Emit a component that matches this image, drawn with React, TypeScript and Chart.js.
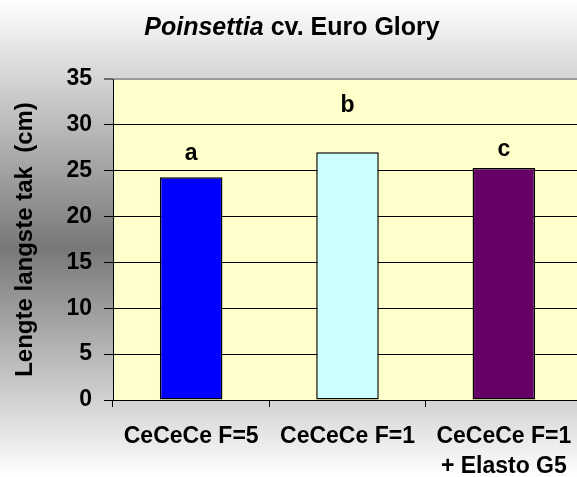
import React, { useEffect, useRef } from 'react';
import { Chart, registerables } from 'chart.js';

Chart.register(...registerables);

const categories: string[][] = [['CeCeCe F=5'], ['CeCeCe F=1'], ['CeCeCe F=1', '+ Elasto G5']];
const lengths = [24.3, 27.0, 25.3];
const barColors = ['#0000FF', '#CCFFFF', '#660066'];
const groupLetters = ['a', 'b', 'c'];
const letterLevels = [26.2, 31.4, 26.6];
const yMin = 0;
const yMax = 35;
const yStep = 5;
const titleItalic = 'Poinsettia';
const titleRest = ' cv. Euro Glory';
const yAxisTitle = 'Lengte langste tak  (cm)';

const FONT = '"Liberation Sans", Arial, Helvetica, sans-serif';

const plotBg = {
  id: 'plotBg',
  beforeDraw(chart: any) {
    const { ctx, chartArea: a } = chart;
    ctx.save();
    ctx.fillStyle = '#FFFFCC';
    ctx.fillRect(a.left, a.top, a.right - a.left, a.bottom - a.top);
    ctx.restore();
  },
};

const mixedTitle = {
  id: 'mixedTitle',
  afterDraw(chart: any) {
    const ctx = chart.ctx;
    ctx.save();
    const fi = `italic bold 25px ${FONT}`;
    const fr = `bold 25px ${FONT}`;
    ctx.font = fi;
    const w1 = ctx.measureText(titleItalic).width;
    ctx.font = fr;
    const w2 = ctx.measureText(titleRest).width;
    const x = chart.width / 2 - 3 - (w1 + w2) / 2;
    const y = chart.chartArea.top - 44;
    ctx.fillStyle = '#000';
    ctx.textBaseline = 'alphabetic';
    ctx.textAlign = 'left';
    ctx.font = fi;
    ctx.fillText(titleItalic, x, y);
    ctx.font = fr;
    ctx.fillText(titleRest, x + w1, y);
    ctx.restore();
  },
};

const letterPlugin = {
  id: 'letters',
  afterDatasetsDraw(chart: any) {
    const ctx = chart.ctx;
    const xs = chart.scales.x;
    const ys = chart.scales.y;
    ctx.save();
    ctx.font = `bold 23px ${FONT}`;
    ctx.fillStyle = '#000';
    ctx.textAlign = 'center';
    ctx.textBaseline = 'alphabetic';
    groupLetters.forEach((l, i) => {
      ctx.fillText(l, xs.getPixelForValue(i), ys.getPixelForValue(letterLevels[i]));
    });
    ctx.restore();
  },
};

export default function App() {
  const ref = useRef<HTMLCanvasElement | null>(null);

  useEffect(() => {
    if (!ref.current) return;
    const chart = new Chart(ref.current, {
      type: 'bar',
      data: {
        labels: categories,
        datasets: [
          {
            data: lengths,
            backgroundColor: barColors,
            borderColor: '#000000',
            borderWidth: 1.5,
            borderSkipped: false,
            barPercentage: 0.4,
            categoryPercentage: 1.0,
          },
        ],
      },
      options: {
        animation: false,
        responsive: false,
        devicePixelRatio: 1,
        events: [],
        layout: { padding: { top: 79, right: 8, left: 0, bottom: 0 } },
        plugins: {
          legend: { display: false },
          tooltip: { enabled: false },
          title: { display: false },
        },
        scales: {
          x: {
            type: 'category',
            offset: true,
            grid: {
              offset: true,
              drawOnChartArea: false,
              drawTicks: true,
              tickLength: 7,
              color: '#000000',
              lineWidth: 1,
            },
            border: { display: true, color: '#000000', width: 1 },
            ticks: {
              color: '#000000',
              font: { family: FONT, size: 23, weight: 'bold', lineHeight: 1.3 },
              padding: 15,
              maxRotation: 0,
              minRotation: 0,
              autoSkip: false,
            },
            afterFit: (s: any) => {
              s.height = 77;
            },
          },
          y: {
            min: yMin,
            max: yMax,
            ticks: {
              stepSize: yStep,
              color: '#000000',
              font: { family: FONT, size: 23, weight: 'bold' },
              padding: 12,
            },
            grid: {
              color: (c: any) => (c.tick && c.tick.value === yMax ? '#9a9a9a' : '#000000'),
              lineWidth: (c: any) => (c.tick && c.tick.value === yMax ? 2 : 1),
              tickColor: '#000000',
              tickWidth: 1,
              tickLength: 9,
              drawTicks: true,
            },
            border: { display: true, color: '#000000', width: 1 },
            title: {
              display: true,
              text: yAxisTitle,
              color: '#000000',
              font: { family: FONT, size: 24, weight: 'bold' },
              padding: { top: 11, bottom: 0 },
            },
            afterFit: (s: any) => {
              s.width = 113;
            },
          },
        },
      } as any,
      plugins: [plotBg, letterPlugin, mixedTitle],
    });
    return () => chart.destroy();
  }, []);

  return (
    <div
      style={{
        position: 'absolute',
        left: 0,
        top: 0,
        width: 577,
        height: 477,
        overflow: 'hidden',
        background: 'linear-gradient(to bottom, #ffffff 0%, #787878 52%, #ffffff 100%)',
      }}
    >
      <canvas ref={ref} width={590} height={477} style={{ display: 'block' }} />
    </div>
  );
}
